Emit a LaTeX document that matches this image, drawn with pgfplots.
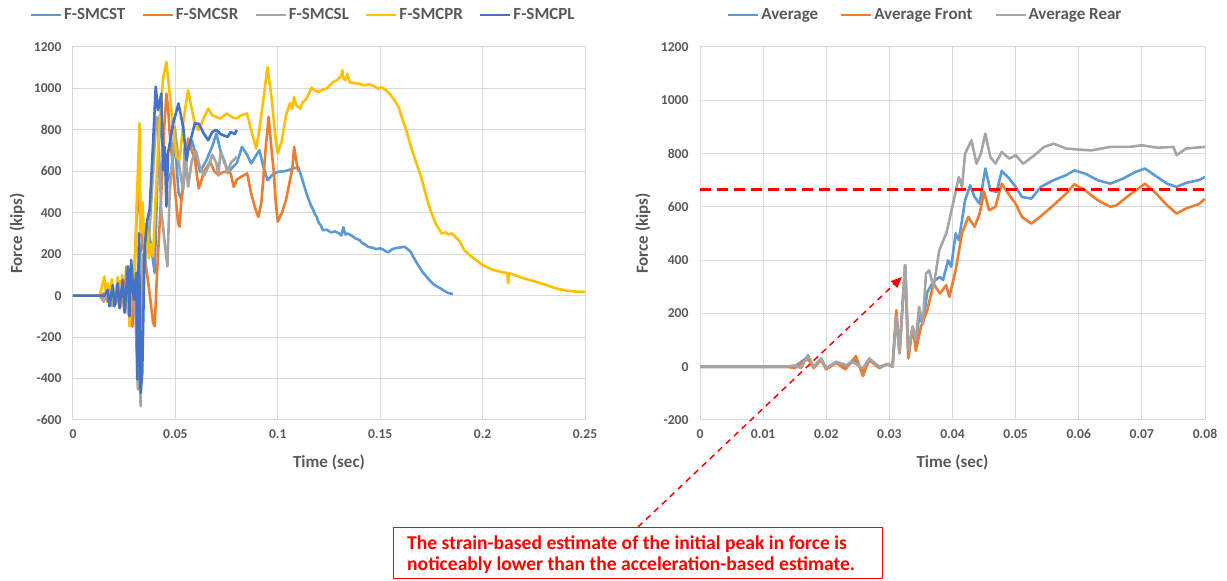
\documentclass[border=0pt]{standalone}
\usepackage{pgfplots}
\pgfplotsset{compat=1.18}
\usepackage{fontspec}
\setmainfont{Carlito}
\usetikzlibrary{arrows.meta}

\definecolor{txtgray}{HTML}{595959}
\definecolor{gridgray}{HTML}{D9D9D9}
\definecolor{cST}{HTML}{5B9BD5}
\definecolor{cSR}{HTML}{ED7D31}
\definecolor{cSL}{HTML}{A5A5A5}
\definecolor{cPR}{HTML}{FFC000}
\definecolor{cPL}{HTML}{4472C4}

\pgfplotsset{
  excel/.style={
    scale only axis,
    height=373pt,
    grid=major,
    major grid style={gridgray, line width=1pt},
    axis line style={gridgray, line width=1pt},
    tick style={draw=none},
    ticklabel style={font=\fontsize{13.6}{15}\selectfont\bfseries, text=txtgray},
    yticklabel style={xshift=-8pt},
    xticklabel style={yshift=-6pt, /pgf/number format/fixed, /pgf/number format/precision=2},
    /pgf/number format/assume math mode=true,
    /pgf/number format/1000 sep={},
    scaled x ticks=false,
    xtick pos=bottom, ytick pos=left,
    xlabel={Time (sec)},
    ylabel={Force (kips)},
    every axis x label/.style={at={(axis description cs:0.5,-0.113)}, anchor=center,
      font=\fontsize{17}{19}\selectfont\bfseries, text=txtgray},
    ymin=-600, ymax=1200,
    legend columns=-1,
    legend style={draw=none, fill=none, text=txtgray, anchor=center, inner sep=0pt,
      nodes={inner sep=2pt, font=\fontsize{17}{19}\selectfont\bfseries, text=txtgray},
      /tikz/every odd column/.append style={column sep=0pt}},
    legend image code/.code={\draw[#1, line width=2pt] (0pt,0pt) -- (30pt,0pt);},
    every axis plot/.append style={line width=2.6pt, line join=round},
  },
}

\begin{document}
\begin{tikzpicture}
\path[use as bounding box] (0,0) rectangle (1227pt,581pt);

% left: all five tests
\begin{axis}[excel,
  at={(73pt,161pt)}, anchor=south west, width=512pt,
  xmin=0, xmax=0.25, xtick={0,0.05,...,0.25},
  ytick={-600,-400,...,1200},
  every axis y label/.style={at={(axis description cs:-0.109,0.5)}, rotate=90, anchor=center,
    font=\fontsize{17}{19}\selectfont\bfseries, text=txtgray},
  legend style={at={(0.450,1.086)},
    /tikz/every even column/.append style={column sep=14.5pt}},
]
\addplot[cST] coordinates {
(0,0) (0.013,0) (0.015,-20) (0.017,15) (0.019,-30) (0.022,20) (0.025,-40) (0.028,30) (0.030,-60)
(0.032,150) (0.034,280) (0.036,350) (0.038,250) (0.0399,109) (0.041,500) (0.0423,870) (0.044,700)
(0.046,550) (0.048,600) (0.0497,751) (0.0515,500) (0.0529,462) (0.055,620) (0.0562,703) (0.058,750)
(0.060,680) (0.062,598) (0.065,650) (0.068,720) (0.070,782) (0.072,700) (0.074,640) (0.076,598)
(0.078,620) (0.080,640) (0.0825,718) (0.085,680) (0.087,638) (0.089,670) (0.091,702) (0.093,620)
(0.095,557) (0.097,580) (0.100,598) (0.103,600) (0.105,605) (0.108,615) (0.110,620) (0.112,560)
(0.114,493) (0.116,440) (0.117,420) (0.118,397) (0.119,380) (0.120,350) (0.121,340) (0.122,316)
(0.124,318) (0.126,305) (0.128,310) (0.130,300) (0.131,290) (0.132,330) (0.133,295) (0.134,300)
(0.136,290) (0.138,276) (0.140,268) (0.141,255) (0.143,245) (0.144,236) (0.146,232) (0.148,225)
(0.150,228) (0.152,220) (0.153,212) (0.154,210) (0.156,225) (0.158,230) (0.160,233) (0.162,236)
(0.163,228) (0.165,210) (0.166,190) (0.168,156) (0.170,125) (0.171,110) (0.173,88) (0.174,75)
(0.176,55) (0.178,43) (0.180,32) (0.181,25) (0.183,14) (0.184,11) (0.1855,8)
};
\addplot[cSR] coordinates {
(0,0) (0.013,0) (0.015,10) (0.017,-30) (0.019,60) (0.021,-40) (0.023,70) (0.025,-60) (0.026,140)
(0.027,-80) (0.028,100) (0.029,-150) (0.030,120) (0.0317,542) (0.0333,301) (0.035,189) (0.0374,13)
(0.0391,-131) (0.0399,-148) (0.041,100) (0.0431,494) (0.0445,800) (0.0456,975) (0.0465,900)
(0.0472,783) (0.0489,607) (0.0513,350) (0.052,333) (0.0529,462) (0.055,650) (0.0562,759) (0.058,700)
(0.0595,655) (0.0614,517) (0.064,600) (0.067,646) (0.069,600) (0.071,582) (0.073,595) (0.075,600)
(0.077,590) (0.0785,525) (0.080,560) (0.082,573) (0.085,590) (0.087,493) (0.089,420) (0.0905,380)
(0.092,450) (0.094,700) (0.0955,863) (0.097,700) (0.098,600) (0.099,450) (0.100,357) (0.102,400)
(0.104,461) (0.106,560) (0.107,605) (0.108,718) (0.109,650) (0.110,600)
};
\addplot[cSL] coordinates {
(0,0) (0.013,0) (0.015,-30) (0.017,20) (0.019,-50) (0.021,30) (0.023,-60) (0.025,40) (0.027,-90)
(0.029,80) (0.0305,-100) (0.0317,-453) (0.0325,100) (0.033,-533) (0.034,200) (0.035,109) (0.036,300)
(0.037,250) (0.0385,500) (0.0407,863) (0.0415,831) (0.0431,414) (0.0448,254) (0.0461,141)
(0.0472,494) (0.0497,815) (0.051,700) (0.0521,607) (0.0538,510) (0.0545,718) (0.0562,526)
(0.058,650) (0.060,700) (0.062,620) (0.064,580) (0.066,620) (0.068,680) (0.070,640) (0.071,580)
(0.072,690) (0.074,650) (0.0755,590) (0.077,640) (0.079,660) (0.080,670)
};
\addplot[cPR] coordinates {
(0,0) (0.013,0) (0.0154,93) (0.016,10) (0.017,60) (0.018,-20) (0.019,80) (0.020,-30) (0.0219,90)
(0.023,-40) (0.024,100) (0.025,-60) (0.0268,141) (0.0276,-148) (0.029,120) (0.030,50) (0.031,400)
(0.0325,831) (0.033,300) (0.034,450) (0.035,200) (0.036,350) (0.037,180) (0.038,250) (0.0391,189)
(0.040,400) (0.042,800) (0.044,1050) (0.0456,1128) (0.0472,975) (0.049,800) (0.0505,671)
(0.0521,655) (0.054,850) (0.0562,992) (0.058,900) (0.0595,831) (0.0614,798) (0.064,860) (0.066,903)
(0.068,870) (0.070,862) (0.072,855) (0.075,879) (0.078,860) (0.080,855) (0.082,870) (0.085,879)
(0.087,800) (0.0894,710) (0.091,800) (0.093,950) (0.095,1103) (0.097,950) (0.099,750) (0.100,686)
(0.102,750) (0.104,870) (0.106,930) (0.107,900) (0.108,959) (0.109,920) (0.111,903) (0.112,930)
(0.114,950) (0.1165,1004) (0.118,990) (0.120,983) (0.122,995) (0.124,1000) (0.127,1031) (0.129,1040)
(0.130,1050) (0.131,1060) (0.1315,1088) (0.132,1050) (0.133,1040) (0.134,1070) (0.135,1030)
(0.138,1025) (0.140,1022) (0.142,1015) (0.145,1020) (0.147,1010) (0.149,999) (0.151,1005) (0.153,990)
(0.155,970) (0.157,943) (0.159,910) (0.1605,863) (0.163,790) (0.165,718) (0.168,630) (0.170,573)
(0.1725,480) (0.1745,413) (0.177,350) (0.180,300) (0.182,305) (0.183,295) (0.185,300) (0.1867,284)
(0.189,260) (0.191,220) (0.195,185) (0.200,148) (0.205,125) (0.210,112) (0.212,110) (0.2125,60)
(0.213,108) (0.217,95) (0.220,84) (0.225,70) (0.230,55) (0.2335,43) (0.237,32) (0.241,24)
(0.245,20) (0.250,18)
};
\addplot[cPL] coordinates {
(0,0) (0.0154,0) (0.0170,29) (0.0178,-51) (0.0194,50) (0.0203,-51) (0.0219,60) (0.0227,-60)
(0.0243,77) (0.0252,-83) (0.0268,141) (0.0276,-100) (0.0284,173) (0.0297,-20) (0.0309,110)
(0.0314,-404) (0.0322,301) (0.0330,-468) (0.0338,-372) (0.0350,237) (0.0363,366) (0.0374,414)
(0.0391,735) (0.0404,1008) (0.0415,895) (0.0431,975) (0.0440,607) (0.0448,719) (0.0456,430)
(0.0464,687) (0.0489,831) (0.0515,927) (0.0538,815) (0.0554,655) (0.0562,703) (0.0595,831)
(0.0614,830) (0.064,780) (0.066,750) (0.068,790) (0.070,800) (0.072,780) (0.0755,766) (0.077,790)
(0.079,780) (0.080,800)
};
\legend{F-SMCST, F-SMCSR, F-SMCSL, F-SMCPR, F-SMCPL}
\end{axis}

% right: averages
\begin{axis}[excel,
  at={(700pt,161pt)}, anchor=south west, width=505pt,
  xmin=0, xmax=0.08, xtick={0,0.01,...,0.08},
  ymin=-200, ytick={-200,0,...,1200},
  every axis y label/.style={at={(axis description cs:-0.113,0.5)}, rotate=90, anchor=center,
    font=\fontsize{17}{19}\selectfont\bfseries, text=txtgray},
  legend style={at={(0.4465,1.086)},
    /tikz/every even column/.append style={column sep=20pt}},
]
\addplot[cST] coordinates {
(0,0) (0.0137,0) (0.015,0) (0.0171,37) (0.018,-2) (0.0192,28) (0.020,-7) (0.0216,17) (0.023,0)
(0.0247,25) (0.0258,-20) (0.0268,28) (0.0284,-2) (0.0297,10) (0.0305,0) (0.0311,200) (0.0316,50)
(0.0325,381) (0.033,46) (0.0337,150) (0.0342,80) (0.0347,190) (0.0353,160) (0.036,280) (0.0365,300)
(0.037,320) (0.038,337) (0.0385,325) (0.0393,400) (0.0398,375) (0.0405,500) (0.041,475) (0.042,625)
(0.0428,681) (0.0435,637) (0.0443,612) (0.0452,744) (0.046,662) (0.047,656) (0.0478,735) (0.049,706)
(0.050,675) (0.051,637) (0.0525,631) (0.054,675) (0.056,700) (0.058,719) (0.0593,737) (0.061,725)
(0.063,700) (0.065,687) (0.067,706) (0.069,731) (0.0705,744) (0.072,719) (0.074,687) (0.0755,675)
(0.077,690) (0.079,700) (0.080,712)
};
\addplot[cSR] coordinates {
(0,0) (0.0137,0) (0.015,-5) (0.0171,30) (0.018,-5) (0.0192,25) (0.020,-10) (0.0216,15) (0.023,-10)
(0.0247,40) (0.0258,-35) (0.0268,25) (0.0284,-5) (0.0297,10) (0.0305,0) (0.0311,212) (0.0316,50)
(0.0325,381) (0.033,31) (0.0337,150) (0.0342,60) (0.035,150) (0.036,212) (0.037,312) (0.038,275)
(0.039,306) (0.0395,262) (0.040,312) (0.0405,362) (0.0415,500) (0.0425,562) (0.0435,525) (0.0443,575)
(0.045,656) (0.0458,587) (0.0468,600) (0.0478,687) (0.049,644) (0.050,612) (0.051,562) (0.0525,537)
(0.054,565) (0.056,606) (0.058,650) (0.0593,685) (0.061,662) (0.063,625) (0.065,600) (0.066,606)
(0.068,644) (0.0705,687) (0.072,656) (0.074,606) (0.0755,575) (0.077,594) (0.079,610) (0.080,630)
};
\addplot[cSL] coordinates {
(0,0) (0.0137,0) (0.015,5) (0.016,-5) (0.0171,44) (0.018,0) (0.0192,31) (0.020,-5) (0.0216,19)
(0.0232,5) (0.024,20) (0.0247,10) (0.0258,-6) (0.0268,31) (0.0284,0) (0.0297,10) (0.0305,0)
(0.0311,187) (0.0316,50) (0.0325,381) (0.033,62) (0.0337,150) (0.0342,100) (0.0347,225) (0.0353,162)
(0.0358,350) (0.0363,362) (0.0370,300) (0.0379,437) (0.039,500) (0.0395,550) (0.0402,625) (0.041,712)
(0.0415,675) (0.042,800) (0.043,850) (0.0438,762) (0.0445,800) (0.0452,875) (0.046,787) (0.0468,762)
(0.0478,806) (0.049,781) (0.050,794) (0.0512,762) (0.053,794) (0.0545,825) (0.056,837) (0.058,819)
(0.060,815) (0.062,812) (0.065,825) (0.068,825) (0.070,831) (0.0725,822) (0.075,825) (0.0755,794)
(0.077,819) (0.080,825)
};
\legend{Average, Average Front, Average Rear}
\addplot[red, line width=3pt, dash pattern=on 11pt off 6pt, forget plot] coordinates {(0,666) (0.08,666)};
\coordinate (tip) at (axis cs:0.032,337);
\end{axis}

% note box and arrow
\draw[red, line width=1.5pt, dash pattern=on 6pt off 5pt,
  -{Triangle[length=11pt, width=9pt]}] (638pt,54pt) -- (tip);
\draw[red, line width=1pt, fill=white] (393pt,53pt) rectangle (882pt,2pt);
\node[anchor=base west, inner sep=0pt, text=red, font=\fontsize{19.6}{21}\selectfont\bfseries]
  at (407pt,31pt) {The strain-based estimate of the initial peak in force is};
\node[anchor=base west, inner sep=0pt, text=red, font=\fontsize{19.6}{21}\selectfont\bfseries]
  at (407pt,10pt) {noticeably lower than the acceleration-based estimate.};
\end{tikzpicture}
\end{document}
